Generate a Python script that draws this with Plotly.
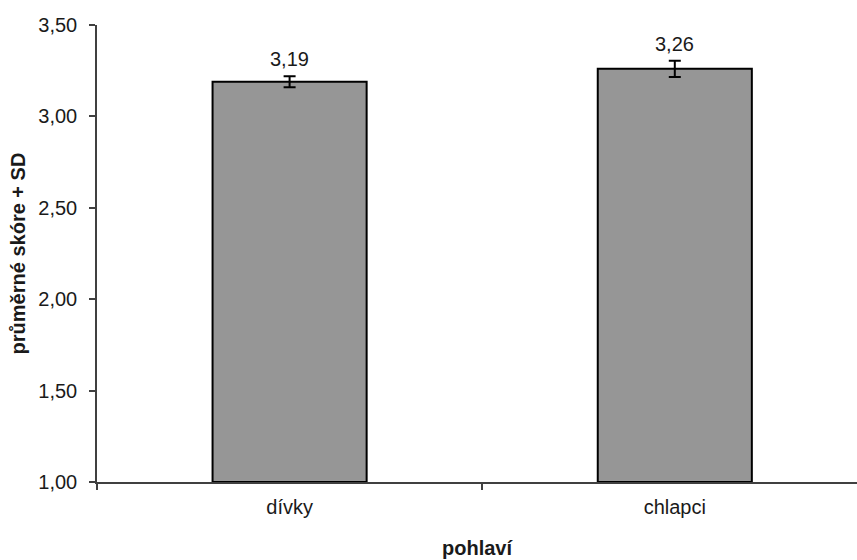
import plotly.graph_objects as go

categories = ["dívky", "chlapci"]
means = [3.19, 3.26]
sds = [0.03, 0.045]
labels = ["3,19", "3,26"]
y_ticks = [1.0, 1.5, 2.0, 2.5, 3.0, 3.5]

font = "Liberation Sans, Arial, sans-serif"

fig = go.Figure()
fig.add_trace(go.Bar(
    x=categories, y=[m - 1.0 for m in means], base=1.0,
    width=0.4,
    marker=dict(color="#969696", line=dict(color="#000000", width=2)),
    error_y=dict(type="data", array=sds, visible=True, color="#000000", thickness=2, width=6),
    hoverinfo="skip",
))

for c, m, s, t in zip(categories, means, sds, labels):
    fig.add_annotation(x=c, y=m + s, text=t, showarrow=False, yanchor="bottom", yshift=4,
                       font=dict(family=font, size=20, color="#1a1a1a"))

fig.update_layout(
    width=857, height=560,
    margin=dict(l=97, r=0, t=25, b=78),
    paper_bgcolor="white", plot_bgcolor="white",
    separators=", ",
    showlegend=False,
    font=dict(family=font, size=20, color="#1a1a1a"),
)
fig.update_xaxes(
    type="category", range=[-0.5, 1.473],
    showline=True, linecolor="#404040", linewidth=1.5,
    ticks="outside", tickson="boundaries", ticklen=6, tickcolor="#404040", tickwidth=1.5,
    ticklabelstandoff=6,
    showgrid=False, zeroline=False,
    tickfont=dict(family=font, size=20, color="#1a1a1a"),
    title=dict(text="<b>pohlaví</b>", font=dict(family=font, size=20, color="#1a1a1a"), standoff=24),
)
fig.update_yaxes(
    range=[1.0, 3.5], tickvals=y_ticks, tickformat=".2f",
    showline=True, linecolor="#404040", linewidth=1.5,
    ticks="outside", ticklen=6, tickcolor="#404040", tickwidth=1.5,
    ticklabelstandoff=8,
    showgrid=False, zeroline=False,
    tickfont=dict(family=font, size=20, color="#1a1a1a"),
    title=dict(text="<b>průměrné skóre + SD</b>", font=dict(family=font, size=20, color="#1a1a1a"), standoff=7),
)

fig.write_html("out.html", config={"displayModeBar": False},
               post_script="document.body.style.margin='0';")
